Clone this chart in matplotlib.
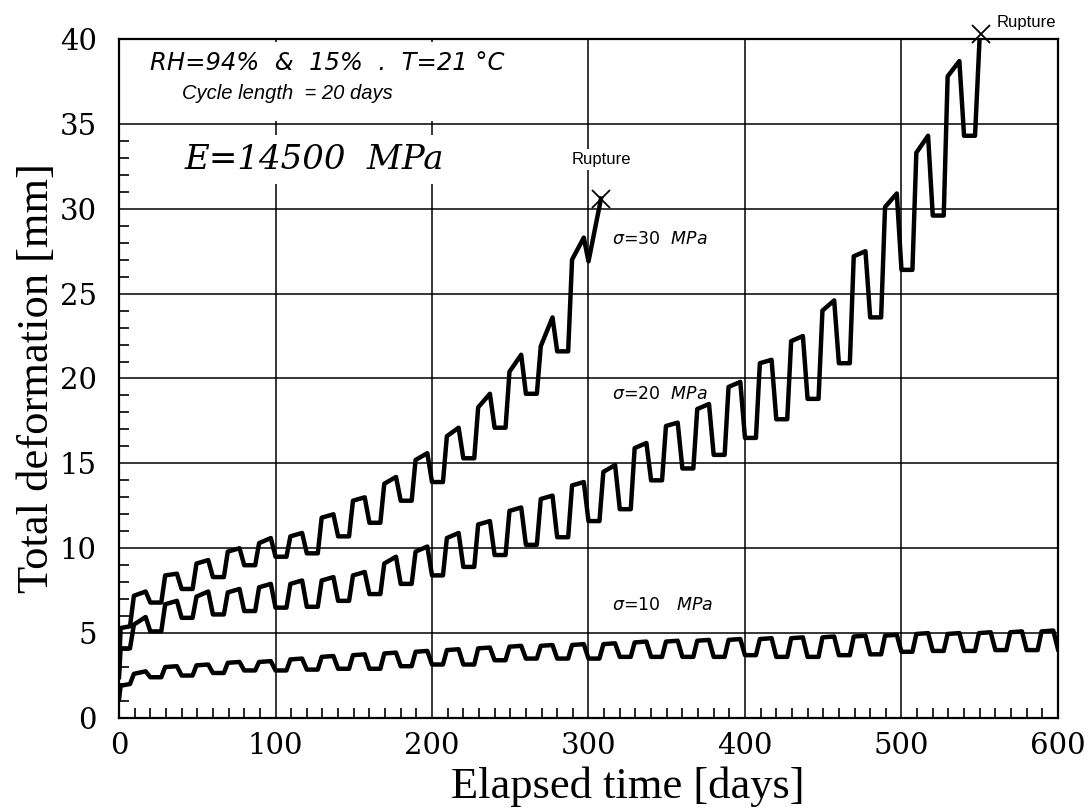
import matplotlib
matplotlib.use("Agg")
import matplotlib.pyplot as plt
from matplotlib.patches import Rectangle
from matplotlib.ticker import MultipleLocator

plt.rcParams['mathtext.fontset'] = 'dejavusans'

# wetting/drying cycles of 20 days
cycle_days = 20
# day inside a cycle: trough start, trough end, top of the rise, peak before the drop
phase = [0, 7, 9.5, 17]

# sigma = 10 MPa
s10_start_t = [0, 1]
s10_start_v = [1.1, 1.9]
s10_lo = [2.0, 2.4, 2.5, 2.65, 2.8, 2.8, 2.85, 2.9, 2.9, 3.05,
          3.15, 3.15, 3.4, 3.5, 3.5, 3.5, 3.6, 3.6, 3.6, 3.6,
          3.7, 3.6, 3.6, 3.7, 3.75, 3.9, 3.95, 3.95, 4.0, 4.0, 4.05]
s10_up = [2.6, 3.0, 3.1, 3.25, 3.3, 3.45, 3.6, 3.7, 3.8, 3.9,
          4.0, 4.1, 4.2, 4.25, 4.3, 4.35, 4.45, 4.5, 4.55, 4.6,
          4.65, 4.7, 4.75, 4.8, 4.85, 4.95, 4.95, 5.0, 5.05, 5.1]
s10_hi = [2.75, 3.05, 3.15, 3.3, 3.35, 3.5, 3.65, 3.75, 3.85, 3.95,
          4.05, 4.15, 4.25, 4.3, 4.35, 4.4, 4.5, 4.55, 4.6, 4.65,
          4.7, 4.75, 4.8, 4.85, 4.9, 5.0, 5.0, 5.05, 5.1, 5.15]
s10_end_t, s10_end_v = [], []

# sigma = 20 MPa
s20_start_t = [0, 1]
s20_start_v = [2.4, 4.1]
s20_lo = [4.1, 5.1, 5.9, 6.1, 6.3, 6.5, 6.55, 6.9, 7.3, 7.9,
          8.4, 8.9, 9.6, 10.2, 10.65, 11.6, 12.3, 14.0, 14.7, 15.5,
          16.5, 17.6, 18.8, 20.9, 23.6, 26.4, 29.6, 34.3]
s20_up = [5.5, 6.7, 7.15, 7.4, 7.7, 7.9, 8.1, 8.4, 9.1, 9.8,
          10.6, 11.4, 12.2, 12.9, 13.7, 14.5, 15.9, 17.2, 18.2, 19.5,
          20.9, 22.2, 24.0, 27.2, 30.1, 33.3, 37.8]
s20_hi = [5.95, 6.9, 7.45, 7.6, 7.9, 8.1, 8.3, 8.6, 9.5, 10.1,
          10.9, 11.6, 12.4, 13.1, 13.9, 14.9, 16.2, 17.4, 18.5, 19.8,
          21.1, 22.5, 24.6, 27.5, 30.9, 34.3, 38.7]
s20_end_t = [547, 550]
s20_end_v = [34.3, 40.2]

# sigma = 30 MPa
s30_start_t = [0, 1]
s30_start_v = [2.8, 5.3]
s30_lo = [5.4, 6.8, 7.6, 8.3, 9.0, 9.5, 9.7, 10.7, 11.5, 12.8,
          13.9, 15.3, 17.1, 19.1, 21.6, 26.9]
s30_up = [7.2, 8.4, 9.1, 9.8, 10.3, 10.7, 11.8, 12.8, 13.8, 15.2,
          16.6, 18.3, 20.4, 21.9, 27.0]
s30_hi = [7.45, 8.5, 9.3, 10.0, 10.6, 10.9, 12.0, 13.0, 14.2, 15.6,
          17.1, 19.1, 21.4, 23.6, 28.3]
s30_end_t = [308]
s30_end_v = [30.6]

rupture_t = [308, 551]
rupture_v = [30.6, 40.3]


def build(start_t, start_v, lo, up, hi, end_t, end_v):
    t, v = list(start_t), list(start_v)
    for k in range(len(hi)):
        t0 = k * cycle_days
        for dt, val in zip(phase, [lo[k], lo[k], up[k], hi[k]]):
            if t0 + dt > t[-1]:
                t.append(t0 + dt)
                v.append(val)
    for k in range(len(hi), len(lo)):
        t.append(k * cycle_days)
        v.append(lo[k])
    return t + end_t, v + end_v


fig = plt.figure(figsize=(10.89, 8.11), dpi=100)
ax = fig.add_axes([0.1093, 0.1147, 0.8622, 0.8372])

for args in [(s10_start_t, s10_start_v, s10_lo, s10_up, s10_hi, s10_end_t, s10_end_v),
             (s20_start_t, s20_start_v, s20_lo, s20_up, s20_hi, s20_end_t, s20_end_v),
             (s30_start_t, s30_start_v, s30_lo, s30_up, s30_hi, s30_end_t, s30_end_v)]:
    t, v = build(*args)
    ax.plot(t, v, color='black', lw=3.2, solid_joinstyle='round', zorder=3)

ax.plot(rupture_t, rupture_v, ls='none', marker='x', ms=13, mew=1.3,
        color='black', zorder=4, clip_on=False)

ax.set_xlim(0, 600)
ax.set_ylim(0, 40)
ax.xaxis.set_major_locator(MultipleLocator(100))
ax.xaxis.set_minor_locator(MultipleLocator(10))
ax.yaxis.set_major_locator(MultipleLocator(5))
ax.yaxis.set_minor_locator(MultipleLocator(1))
ax.grid(True, which='major', color='black', lw=1.1)
ax.set_axisbelow(True)
ax.tick_params(which='major', length=0, labelsize=21, pad=10)
ax.tick_params(axis='y', which='major', pad=16)
ax.tick_params(which='minor', direction='in', length=7, width=1.2)
for lab in ax.get_xticklabels() + ax.get_yticklabels():
    lab.set_fontfamily('DejaVu Serif')
for sp in ax.spines.values():
    sp.set_linewidth(1.6)

ax.set_xlabel('Elapsed time [days]', fontsize=32, fontfamily='Liberation Serif')
ax.set_ylabel('Total deformation [mm]', fontsize=32, fontfamily='Liberation Serif')
ax.xaxis.set_label_coords(0.542, -0.071)
ax.yaxis.set_label_coords(-0.066, 0.5)

# blank header box without vertical grid
ax.add_patch(Rectangle((0.5, 35.15), 290, 4.7, facecolor='white', edgecolor='none', zorder=1))
ax.text(20, 38.6, 'RH=94%  &  15%  .  T=21 °C', fontsize=17.5, style='italic',
        fontfamily='DejaVu Sans', va='center', ha='left', zorder=5)
ax.text(40, 36.8, 'Cycle length  = 20 days', fontsize=14.5, style='italic',
        fontfamily='Liberation Sans', va='center', ha='left', zorder=5)
ax.text(42, 32.9, 'E=14500  MPa', fontsize=24.5, style='italic',
        fontfamily='DejaVu Serif', va='center', ha='left', zorder=5,
        bbox=dict(facecolor='white', edgecolor='none', pad=6))

ax.text(308, 32.9, 'Rupture', fontsize=12, fontfamily='Liberation Sans',
        ha='center', va='center', zorder=5,
        bbox=dict(facecolor='white', edgecolor='none', pad=2))
ax.text(561, 41.0, 'Rupture', fontsize=12, fontfamily='Liberation Sans',
        ha='left', va='center', clip_on=False)

ax.text(315, 28.2, r'$\sigma$=30  $MPa$', fontsize=12.5, ha='left', va='center', zorder=5)
ax.text(315, 19.1, r'$\sigma$=20  $MPa$', fontsize=12.5, ha='left', va='center', zorder=5)
ax.text(315, 6.65, r'$\sigma$=10   $MPa$', fontsize=12.5, ha='left', va='center', zorder=5)

fig.savefig('out.png', dpi=100)
